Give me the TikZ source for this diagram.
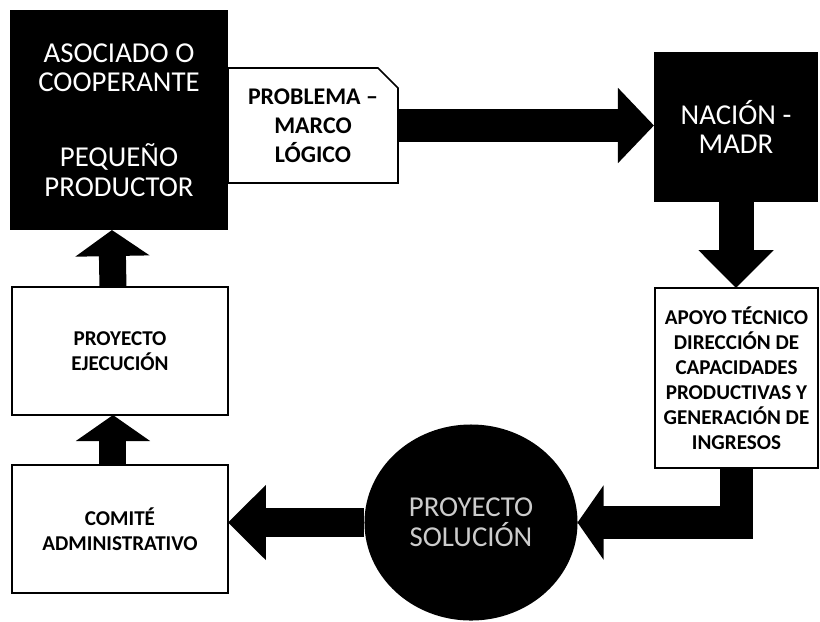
\documentclass[tikz,border=0pt]{standalone}
\usepackage{fontspec}
\setmainfont{Carlito}
\usetikzlibrary{arrows.meta,calc,shapes.geometric}

\tikzset{
  darkbox/.style={fill=black,text=white,align=center,inner sep=0pt,outer sep=0pt,
    font=\fontsize{20.5}{21}\selectfont},
  whitebox/.style={draw=black,line width=1.2pt,fill=white,align=center,inner sep=0pt,outer sep=0pt,
    font=\bfseries\fontsize{15}{17.8}\selectfont},
  flowarrow/.style 2 args={line width=#1,-{Triangle[width=52pt,length=#2]}}
}

\begin{document}
\begin{tikzpicture}[x=0.025cm,y=-0.025cm]
\fill[white] (0,0) rectangle (820,621);
\useasboundingbox (0,0) rectangle (820,621);

\node[darkbox,minimum width=5.45cm,minimum height=5.5cm] (socio) at (119,120)
  {ASOCIADO O\\COOPERANTE\\[32pt]PEQUEÑO\\PRODUCTOR};
\node[inner sep=0pt,outer sep=0pt,minimum width=4.25cm,minimum height=2.875cm,align=center,
  font=\bfseries\fontsize{17}{20.5}\selectfont] (marco) at (313,125.5) {PROBLEMA –\\MARCO\\LÓGICO};
\draw[line width=1.2pt] (marco.north west) -- ($(marco.north east)+(-20,0)$)
  -- ($(marco.north east)+(0,20)$) -- (marco.south east) -- (marco.south west) -- cycle;
\node[darkbox,minimum width=4.1cm,minimum height=3.75cm] (nacion) at (736,127) {NACIÓN -\\MADR};
\node[whitebox,minimum width=4.075cm,minimum height=4.5cm] (apoyo) at (736.5,378)
  {APOYO TÉCNICO\\DIRECCIÓN DE\\CAPACIDADES\\PRODUCTIVAS Y\\GENERACIÓN DE\\INGRESOS};
\node[ellipse,fill=black,text=white!80!black,inner sep=0pt,outer sep=0pt,align=center,
  minimum width=5.325cm,minimum height=4.9cm,font=\fontsize{20.5}{21}\selectfont]
  (solucion) at (471,522.5) {PROYECTO\\SOLUCIÓN};
\node[whitebox,minimum width=5.4cm,minimum height=3.2cm] (comite) at (120,529) {COMITÉ\\ADMINISTRATIVO};
\node[whitebox,minimum width=5.4cm,minimum height=3.2cm] (ejecucion) at (120,351) {PROYECTO\\EJECUCIÓN};

% flechas
\draw[flowarrow={22.8pt}{25.6pt}] (marco.east) -- (marco.east -| nacion.west);
\draw[flowarrow={24.9pt}{27pt}] (nacion.south) -- (nacion.south |- apoyo.north);
\draw[flowarrow={24pt}{18.5pt}] (apoyo.south) |- (solucion.east);
\draw[flowarrow={21.3pt}{27pt}] (solucion.west) -- (solucion.west -| comite.east);
\draw[flowarrow={19.2pt}{18.5pt}] ([xshift=-5pt]comite.north) -- ([xshift=-5pt]ejecucion.south);
\draw[flowarrow={19.2pt}{18.5pt}] ([xshift=-5pt]ejecucion.north) -- ([xshift=-5pt]socio.south);
\end{tikzpicture}
\end{document}
